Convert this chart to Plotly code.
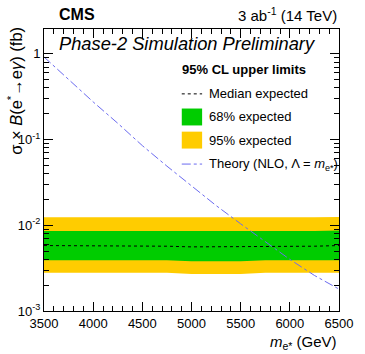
import plotly.graph_objects as go

# mass points (GeV)
mass = [3500, 3750, 4000, 4250, 4500, 4750, 5000, 5250, 5500, 5750, 6000, 6250, 6500]

# expected limits (fb)
median = [0.0058, 0.0058, 0.0057, 0.0057, 0.0057, 0.0057, 0.0056, 0.0056, 0.0056, 0.0057, 0.0057, 0.0057, 0.0058]
band68_lo = [0.0039, 0.0039, 0.0039, 0.0039, 0.0039, 0.0039, 0.0038, 0.0038, 0.0038, 0.0039, 0.0039, 0.0039, 0.0039]
band68_hi = [0.0086, 0.0086, 0.0086, 0.0086, 0.0086, 0.0085, 0.0085, 0.0085, 0.0085, 0.0086, 0.0086, 0.0086, 0.0087]
band95_lo = [0.0028, 0.0028, 0.0028, 0.0028, 0.0028, 0.0028, 0.0027, 0.0027, 0.0027, 0.0028, 0.0028, 0.0028, 0.0028]
band95_hi = [0.0124, 0.0124, 0.0123, 0.0123, 0.0123, 0.0123, 0.0122, 0.0122, 0.0122, 0.0123, 0.0123, 0.0124, 0.0125]

# theory cross section (fb)
theory = [0.92, 0.50, 0.275, 0.155, 0.085, 0.049, 0.0288, 0.0170, 0.0104, 0.0065, 0.0040, 0.0026, 0.0018]

font = "Liberation Sans, Arial, sans-serif"
YELLOW = "#ffcc00"
GREEN = "#00cc00"
THEORY = "#6b6bf0"

fig = go.Figure()

# 95% band
fig.add_trace(go.Scatter(x=mass, y=band95_hi, mode="lines", line=dict(width=0, color=YELLOW),
                         showlegend=False, hoverinfo="skip"))
fig.add_trace(go.Scatter(x=mass, y=band95_lo, mode="lines", line=dict(width=0, color=YELLOW),
                         fill="tonexty", fillcolor=YELLOW, name="95% expected", showlegend=False))
# 68% band
fig.add_trace(go.Scatter(x=mass, y=band68_hi, mode="lines", line=dict(width=0, color=GREEN),
                         showlegend=False, hoverinfo="skip"))
fig.add_trace(go.Scatter(x=mass, y=band68_lo, mode="lines", line=dict(width=0, color=GREEN),
                         fill="tonexty", fillcolor=GREEN, name="68% expected", showlegend=False))
# median
fig.add_trace(go.Scatter(x=mass, y=median, mode="lines", line=dict(color="black", width=1, dash="dot"),
                         name="Median expected", showlegend=False))
# theory
fig.add_trace(go.Scatter(x=mass, y=theory, mode="lines", line=dict(color=THEORY, width=1, dash="dashdot"),
                         name="Theory", showlegend=False))

fig.update_layout(
    width=365, height=354,
    margin=dict(l=44, r=15, t=29, b=43),
    plot_bgcolor="white", paper_bgcolor="white",
    font=dict(family=font, size=13, color="black"),
    showlegend=False,
)

fig.update_xaxes(
    range=[3500, 6500], tickmode="array", tickvals=[3500, 4000, 4500, 5000, 5500, 6000, 6500],
    ticks="inside", ticklen=9, tickcolor="black", showline=True, linecolor="black", linewidth=1,
    mirror="allticks", showgrid=False, zeroline=False,
    minor=dict(ticks="inside", ticklen=5, tickcolor="black", dtick=100, tick0=3500, showgrid=False),
    tickfont=dict(size=13),
)
fig.update_yaxes(
    type="log", range=[-3, 0.29],
    tickmode="array", tickvals=[0.001, 0.01, 0.1, 1],
    ticktext=["10<sup>-3</sup>", "10<sup>-2</sup>", "10<sup>-1</sup>", "1"],
    ticks="inside", ticklen=9, tickcolor="black", showline=True, linecolor="black", linewidth=1,
    mirror="allticks", showgrid=False, zeroline=False,
    minor=dict(ticks="inside", ticklen=5, tickcolor="black", tickmode="array",
               tickvals=[m * 10 ** e for e in (-3, -2, -1, 0) for m in range(2, 10)], showgrid=False),
    tickfont=dict(size=13),
)

# legend drawn by hand (ROOT style)
lx0, lx1, ltx = 0.467, 0.536, 0.552
rows = [0.770, 0.688, 0.606, 0.521]
fig.add_annotation(text="<b>95% CL upper limits</b>", xref="paper", yref="paper", x=0.461, y=0.855,
                   xanchor="left", yanchor="middle", showarrow=False, font=dict(size=13))
fig.add_shape(type="line", xref="paper", yref="paper", x0=lx0, x1=lx1, y0=rows[0], y1=rows[0],
              line=dict(color="black", width=1, dash="dot"))
fig.add_shape(type="rect", xref="paper", yref="paper", x0=lx0, x1=lx1, y0=rows[1] - 0.03, y1=rows[1] + 0.03,
              fillcolor=GREEN, line=dict(width=0))
fig.add_shape(type="rect", xref="paper", yref="paper", x0=lx0, x1=lx1, y0=rows[2] - 0.03, y1=rows[2] + 0.03,
              fillcolor=YELLOW, line=dict(width=0))
fig.add_shape(type="line", xref="paper", yref="paper", x0=lx0, x1=lx1, y0=rows[3], y1=rows[3],
              line=dict(color=THEORY, width=1, dash="dashdot"))
labels = ["Median expected", "68% expected", "95% expected", "Theory (NLO, Λ = <i>m</i><sub>e*</sub>)"]
for yy, lab in zip(rows, labels):
    fig.add_annotation(text=lab, xref="paper", yref="paper", x=ltx, y=yy, xanchor="left", yanchor="middle",
                       showarrow=False, font=dict(size=13))

# texts
fig.add_annotation(text="<b>CMS</b>", xref="paper", yref="paper", x=0.045, y=1.05, xanchor="left",
                   yanchor="middle", showarrow=False, font=dict(size=16))
fig.add_annotation(text="3 ab<sup>-1</sup> (14 TeV)", xref="paper", yref="paper", x=1.0, y=1.05,
                   xanchor="right", yanchor="middle", showarrow=False, font=dict(size=15))
fig.add_annotation(text="<i>Phase-2 Simulation Preliminary</i>", xref="paper", yref="paper", x=0.043,
                   y=0.95, xanchor="left", yanchor="middle", showarrow=False, font=dict(size=18.3))
fig.add_annotation(text="<i>m</i><sub>e*</sub> (GeV)", xref="paper", yref="paper", x=1.0, y=-0.11,
                   xanchor="right", yanchor="middle", showarrow=False, font=dict(size=15))
fig.add_annotation(text="σ × <i>B</i>(e<sup>*</sup>→e<i>γ</i>) (fb)", xref="paper", yref="paper", x=-0.097,
                   y=1.016, xanchor="center", yanchor="top", textangle=-90, showarrow=False,
                   font=dict(size=16.5))

fig.write_html("out.html", config={"displayModeBar": False},
               post_script="document.body.style.margin='0';")
